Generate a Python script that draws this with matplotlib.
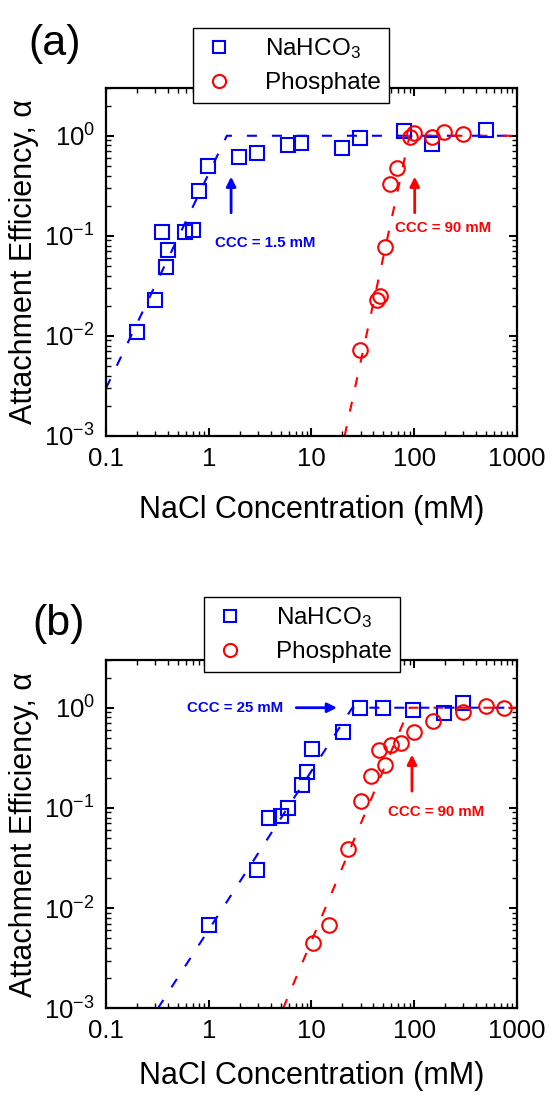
import matplotlib
matplotlib.use("Agg")
import matplotlib.pyplot as plt

plt.rcParams['font.family'] = ['Liberation Sans', 'DejaVu Sans']
plt.rcParams['mathtext.fontset'] = 'custom'
plt.rcParams['mathtext.rm'] = 'Liberation Sans'
plt.rcParams['mathtext.it'] = 'Liberation Sans:italic'
plt.rcParams['mathtext.bf'] = 'Liberation Sans:bold'

# panel (a) measurements
a_nahco3_x = [0.2, 0.3, 0.35, 0.38, 0.4, 0.59, 0.7, 0.8, 0.98, 1.97, 2.95, 5.9, 7.9, 19.8, 29.7, 79.5, 149, 499]
a_nahco3_y = [0.011, 0.023, 0.11, 0.049, 0.073, 0.11, 0.115, 0.28, 0.50, 0.62, 0.68, 0.80, 0.85, 0.76, 0.95, 1.12, 0.83, 1.15]
a_phos_x = [29.7, 43.4, 46.4, 51.9, 58, 68, 91, 99, 149, 195, 298]
a_phos_y = [0.0073, 0.023, 0.025, 0.077, 0.33, 0.48, 0.98, 1.07, 0.98, 1.1, 1.05]

# panel (b) measurements
b_nahco3_x = [1.0, 2.95, 3.86, 5.0, 5.9, 8.1, 9.0, 10.1, 20.3, 29.7, 49.7, 97, 195, 298]
b_nahco3_y = [0.0068, 0.024, 0.08, 0.083, 0.10, 0.17, 0.23, 0.39, 0.57, 1.0, 1.0, 0.95, 0.89, 1.12]
b_phos_x = [10.4, 14.8, 22.6, 30.3, 38, 45.4, 52, 59, 74, 99, 152, 298, 499, 746]
b_phos_y = [0.0045, 0.0068, 0.039, 0.117, 0.21, 0.38, 0.27, 0.42, 0.44, 0.57, 0.73, 0.91, 1.05, 1.0]

# guide lines (unfavourable regime -> plateau at alpha = 1)
a_nahco3_fit_x, a_nahco3_fit_y = [0.1, 1.5, 1000], [0.003, 1, 1]
a_phos_fit_x, a_phos_fit_y = [21, 90, 1000], [0.001, 1, 1]
b_nahco3_fit_x, b_nahco3_fit_y = [0.32, 25, 1000], [0.001, 1, 1]
b_phos_fit_x, b_phos_fit_y = [5.3, 90, 1000], [0.001, 1, 1]

xticks = [0.1, 1, 10, 100, 1000]
xticklabels = ['0.1', '1', '10', '100', '1000']
yticks = [1e-3, 1e-2, 1e-1, 1]
yticklabels = ['$10^{-3}$', '$10^{-2}$', '$10^{-1}$', '$10^{0}$']

BLUE = '#0000ff'
RED = '#ff0000'

fig = plt.figure(figsize=(5.52, 10.96), dpi=100)
ax_a = fig.add_axes([0.1920, 0.6022, 0.7446, 0.3175])
ax_b = fig.add_axes([0.1920, 0.0800, 0.7446, 0.3179])


def style_axes(ax, xpad):
    ax.set_xscale('log')
    ax.set_yscale('log')
    ax.set_xlim(0.1, 1000)
    ax.set_ylim(1e-3, 3)
    ax.set_xticks(xticks, labels=xticklabels)
    ax.set_yticks(yticks, labels=yticklabels)
    ax.tick_params(which='both', direction='in', top=True, right=True)
    ax.tick_params(which='major', length=6, width=1.5, labelsize=18.5, pad=8)
    ax.tick_params(which='minor', length=3.5, width=1)
    for sp in ax.spines.values():
        sp.set_linewidth(1.6)
    ax.set_xlabel('NaCl Concentration (mM)', fontsize=22, labelpad=xpad)
    ax.set_ylabel('Attachment Efficiency, α', fontsize=22, labelpad=4)


def draw_panel(ax, nx, ny, px, py, nfx, nfy, pfx, pfy, xpad):
    ax.plot(nfx, nfy, color=BLUE, lw=1.5, dashes=(4.8, 7.2))
    ax.plot(pfx, pfy, color=RED, lw=1.5, dashes=(4.8, 7.2))
    ax.plot(nx, ny, ls='none', marker='s', ms=9.5, mfc='none', mec=BLUE, mew=1.5,
            label='NaHCO$_3$')
    ax.plot(px, py, ls='none', marker='o', ms=10.5, mfc='none', mec=RED, mew=1.5,
            label='Phosphate')
    style_axes(ax, xpad)


arrow_kw = dict(arrowstyle='-|>', lw=2, mutation_scale=14, shrinkA=0, shrinkB=0)

# (a)
draw_panel(ax_a, a_nahco3_x, a_nahco3_y, a_phos_x, a_phos_y,
           a_nahco3_fit_x, a_nahco3_fit_y, a_phos_fit_x, a_phos_fit_y, 17)
ax_a.annotate('', xy=(1.65, 0.39), xytext=(1.65, 0.17),
              arrowprops=dict(color=BLUE, **arrow_kw))
ax_a.text(1.15, 0.085, 'CCC = 1.5 mM', color=BLUE, fontsize=10.8,
          fontweight='bold', ha='left', va='center')
ax_a.annotate('', xy=(101, 0.39), xytext=(101, 0.17),
              arrowprops=dict(color=RED, **arrow_kw))
ax_a.text(65, 0.12, 'CCC = 90 mM', color=RED, fontsize=10.8,
          fontweight='bold', ha='left', va='center')

# (b)
draw_panel(ax_b, b_nahco3_x, b_nahco3_y, b_phos_x, b_phos_y,
           b_nahco3_fit_x, b_nahco3_fit_y, b_phos_fit_x, b_phos_fit_y, 13)
ax_b.annotate('', xy=(17.7, 1.0), xytext=(7.1, 1.0),
              arrowprops=dict(color=BLUE, **arrow_kw))
ax_b.text(5.3, 1.0, 'CCC = 25 mM', color=BLUE, fontsize=10.8,
          fontweight='bold', ha='right', va='center')
ax_b.annotate('', xy=(95, 0.34), xytext=(95, 0.147),
              arrowprops=dict(color=RED, **arrow_kw))
ax_b.text(55.6, 0.091, 'CCC = 90 mM', color=RED, fontsize=10.8,
          fontweight='bold', ha='left', va='center')

for ax, anchor in ((ax_a, (0.3496, 0.9745)), (ax_b, (0.3696, 0.4553))):
    leg = ax.legend(loc='upper left', bbox_to_anchor=anchor,
                    bbox_transform=fig.transFigure, fontsize=17.5,
                    fancybox=False, edgecolor='black', framealpha=1,
                    borderaxespad=0, borderpad=0.35, handlelength=1.4,
                    handletextpad=1.2, labelspacing=0.45, markerscale=0.9)
    leg.get_frame().set_linewidth(1.0)
    leg.set_zorder(5)

fig.text(0.052, 0.960, '(a)', fontsize=31, ha='left', va='center')
fig.text(0.058, 0.431, '(b)', fontsize=31, ha='left', va='center')

fig.savefig('out.png', dpi=100)
